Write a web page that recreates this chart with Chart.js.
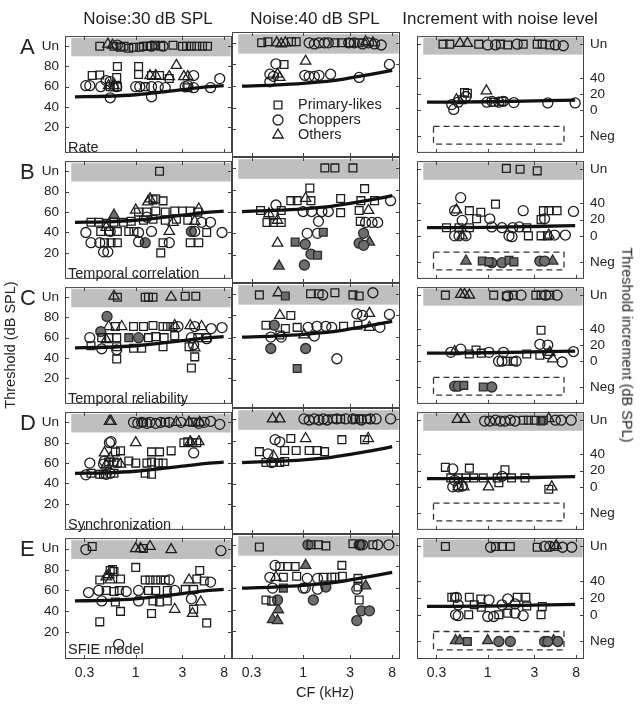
<!DOCTYPE html>
<html lang="en">
<head>
  <meta charset="UTF-8">
  <title>Thresholds vs CF</title>
  <style>
    body {
      margin: 0;
      background: #fff;
      font-family: 'Liberation Sans', Arial, sans-serif;
      color: #222;
    }
    #fig { position: relative; width: 642px; height: 704px; overflow: hidden; }
    #fig canvas { position: absolute; z-index: 0; }
    .lbl { position: absolute; white-space: nowrap; line-height: 1; z-index: 2; }
    .title { top: 10px; font-size: 17px; transform: translateX(-50%); }
    .letter { left: 20px; font-size: 22px; }
    .rowname { left: 68px; font-size: 14.5px; }
    .rot { font-size: 14.5px; transform: translate(-50%, -50%) rotate(-90deg); }
    .rot.cw { transform: translate(-50%, -50%) rotate(90deg); }
  </style>
</head>
<body>
<div id="fig">
  <div class="lbl title" style="left:148px">Noise:30 dB SPL</div>
  <div class="lbl title" style="left:315px">Noise:40 dB SPL</div>
  <div class="lbl title" style="left:500px">Increment with noise level</div>
  <div class="lbl rot" style="left:10px; top:345px">Threshold (dB SPL)</div>
  <div class="lbl rot cw" style="left:627px; top:345px">Threshold increment (dB SPL)</div>
  <div class="lbl" style="left:325px; top:692px; font-size:14.5px; transform:translate(-50%,-50%)">CF (kHz)</div>
</div>

<script src="https://cdn.jsdelivr.net/npm/chart.js"></script>
<script>
  // thresholds in dB SPL (cols 1-2) or dB increment (col 3); Un ~ 100 / 82, Neg ~ -32
  // PL = primary-likes (squares), CH = choppers (circles), OT = others (triangles), F = filled

  // Row A: rate
  const A1_PL = [[0.43,100],[0.6,100],[0.7,99],[0.76,100],[0.85,98],[0.95,99],[1.1,99],[1.2,100],[1.3,100],[1.4,100],[1.6,101],[1.8,100],[2.4,101],[3.0,100],[3.3,100],[3.7,100],[4.2,100],[4.8,100],[5.4,100],
                 [0.36,71],[0.43,71.5],[0.65,80],[0.64,69],[0.55,60],[0.6,60],[0.65,60],[1.07,80],[1.07,72],[1.25,60],[1.45,71],[1.75,71],[2.2,68],[3.4,59]];
  const A1_CH = [[0.65,101],[1.45,100],[1.9,100],[0.31,61],[0.34,61],[0.44,60],[0.5,66],[0.55,65],[0.55,49],[0.64,60],[1.0,60],[1.1,60],[1.45,50],[1.45,60],[1.7,60],[2.0,59],[3.2,60],[3.4,61],[3.9,71],[3.9,59],[5.8,59],[7.2,68]];
  const A1_OT = [[0.52,102],[0.58,101],[0.53,61],[0.6,61],[1.4,71],[1.6,71],[2.2,70],[2.6,81],[3.1,70],[3.4,70]];

  const A2_PL = [[0.38,100],[0.44,101],[0.76,101],[0.85,101],[2.1,100],[2.46,100],[3.0,100],[3.7,100],[0.64,80]];
  const A2_CH = [[1.15,100],[1.3,99],[1.45,100],[1.65,100],[1.8,100],[2.9,100],[3.3,100],[4.0,99],[4.6,100],[5.3,99],[6.2,98],
                 [0.53,80.6],[0.46,71],[0.5,69],[0.46,64],[1.04,70],[1.15,69],[1.3,69],[1.45,70],[1.9,71],[3.7,68],[7.5,80]];
  const A2_OT = [[0.54,100],[0.6,99],[0.66,100],[4.3,101],[5.1,100],[0.55,71],[0.58,68],[1.06,83]];

  const A3_PL = [[0.35,82],[0.41,82],[0.81,82],[1.35,82],[1.6,81],[2.3,82],[3.2,82],[3.6,82],[4.3,81],[0.58,22],[0.62,21],[0.55,13],[1.15,10],[1.4,11]];
  const A3_CH = [[1.0,81],[1.2,81],[2.0,82],[4.9,81],[5.9,80],[0.6,17],[0.45,1],[0.43,7],[0.5,10],[0.98,10],[1.1,11],[1.3,10],[1.45,11],[1.85,9.5],[4.1,9],[7.8,9]];
  const A3_OT = [[0.52,83],[0.62,83],[0.48,13],[0.97,24]];

  // Row B: temporal correlation
  const B1_PL = [[1.75,100],[1.5,72],[1.9,71],[1.6,73],[1.07,60],[1.3,60],[1.6,61],[2.0,60],[2.5,61],[3.0,61],[3.6,61],[4.3,60],
                 [0.35,50],[0.42,50],[0.5,49],[0.6,50],[0.75,50],[0.9,51],[1.2,52],[1.5,53],[2.0,52],[2.6,53],[3.4,52],
                 [0.44,41],[0.53,41],[0.65,41],[0.85,41],[0.96,41],[5.3,40],[0.48,30],[0.56,30],[0.65,30],[1.9,30],[3.6,30],[4.4,30],[1.8,20]];
  const B1_CH = [[0.31,40],[0.55,41],[1.07,40],[1.45,41],[4.0,41],[7.6,40],[4.7,50],[5.8,50],[0.35,30],[0.43,30],[1.07,31],[2.2,30],[0.47,21],[0.52,21],[1.3,55]];
  const B1_CHF = [[1.25,30],[3.7,41]];
  const B1_OT = [[1.33,70],[1.4,73],[1.0,62],[4.4,63],[2.2,41],[2.4,50],[4.0,51],[0.5,45]];
  const B1_OTF = [[0.6,57]];

  const B2_PL = [[1.66,100],[2.1,100],[3.2,100],[1.17,81.5],[4.2,81],[0.75,70],[0.87,70],[1.2,70],[2.4,72],[3.85,70],[5.3,70],[0.37,61],[0.6,61],[2.4,59],[3.7,61],[3.8,51],[0.43,50],[0.5,50],[0.6,50]];
  const B2_PLF = [[1.6,41],[0.83,32],[1.4,20]];
  const B2_CH = [[0.53,66],[1.0,60],[1.22,60],[1.55,60],[1.8,60],[7.7,70],[1.43,51],[4.3,50],[5.0,50],[5.7,50],[1.1,40],[1.4,40],[0.5,57]];
  const B2_CHF = [[4.1,40],[1.05,30],[3.7,31],[4.1,29],[1.2,21],[1.03,11]];
  const B2_OT = [[1.06,72],[0.45,58],[4.6,61],[0.55,52],[0.55,31]];
  const B2_OTF = [[4.7,32],[0.57,10]];

  const B3_PL = [[1.55,83],[2.14,82],[3.2,80],[0.65,31],[0.85,29],[1.2,39],[0.77,21],[3.7,31],[4.2,31],[5.1,31],[3.5,20],[0.38,10],[0.51,10],[0.65,10],[2.5,10],[2.6,0],[3.5,0],[4.07,0]];
  const B3_PLF = [[0.88,-31],[1.03,-32],[1.65,-30],[1.85,-32]];
  const B3_CH = [[0.53,47],[0.46,31],[1.05,21],[0.55,19],[2.3,31],[7.5,30],[3.8,21],[1.1,11],[1.4,10],[1.8,10],[2.1,11],[0.46,0],[0.51,0],[0.6,0],[1.65,0],[1.77,-1],[4.8,1],[6.2,1]];
  const B3_CHF = [[1.1,-33],[1.4,-33],[3.4,-31],[3.8,-31]];
  const B3_OT = [[0.48,32],[4.2,1],[0.55,0]];
  const B3_OTF = [[0.6,-31],[4.6,-31]];

  // Row C: temporal reliability
  const C1_PL = [[0.65,100],[1.25,100],[1.35,100],[1.5,100],[3.2,101],[4.1,101],[0.62,71],[0.95,71],[1.2,71],[1.5,72],[1.9,71],[2.1,71],[2.4,71],
                 [0.45,60],[0.53,60],[0.64,60],[1.35,60],[1.6,61],[1.95,60],[2.5,62],[4.3,60],[5.3,60],[0.35,52],[0.64,51],[0.95,49.5],[1.15,49.5],[1.9,51],[3.5,51],[0.64,39],[4.0,41],[3.7,30]];
  const C1_PLF = [[0.85,60]];
  const C1_CH = [[2.7,71],[4.0,71],[5.9,69],[7.6,70],[0.34,60],[3.7,60],[5.3,59],[0.45,49],[0.64,48],[3.9,53]];
  const C1_CHF = [[0.51,81],[0.44,66],[1.07,60]];
  const C1_OT = [[0.6,101],[2.3,100],[0.53,71],[0.72,71],[2.5,72],[3.6,72],[4.7,71],[4.0,50],[0.5,58]];

  const C2_PL = [[0.36,99],[1.19,100],[1.45,100],[2.1,101],[3.2,99],[3.7,98],[0.75,80],[0.42,71],[0.66,68],[0.87,69],[2.57,70],[3.6,71],[0.58,62]];
  const C2_PLF = [[0.66,98],[0.87,31]];
  const C2_CH = [[1.58,99],[5.1,101],[3.5,81.5],[4.0,80],[7.5,81],[1.12,69],[1.38,70],[1.7,70],[1.95,69],[6.0,69],[0.47,60],[0.6,60],[1.3,61],[2.2,40]];
  const C2_CHF = [[0.51,71],[0.47,49.5],[1.06,49.5]];
  const C2_OT = [[0.56,101],[0.58,80],[4.7,82],[4.7,69],[1.02,62]];

  const C3_PL = [[0.37,82],[1.15,82],[1.55,81],[1.82,82],[3.1,82],[3.5,82],[4.3,82],[3.5,38.5],[3.4,7.5],[0.65,9],[0.76,14],[0.86,10],[2.5,9],[1.58,0],[1.82,0]];
  const C3_PLF = [[0.57,-30],[0.9,-32]];
  const C3_CH = [[1.6,81],[2.19,82],[3.9,82],[5.1,82],[3.4,21],[4.1,20],[4.1,9.3],[0.42,11],[0.53,15],[1.03,11],[1.45,11],[7.5,12],[1.29,0],[1.4,0],[1.95,0],[5.75,-1]];
  const C3_CHF = [[0.46,-31],[0.5,-31],[1.1,-32]];
  const C3_OT = [[0.53,83],[0.58,83],[0.65,82],[0.46,12],[4.3,11],[4.6,3]];

  // Row D: synchronization
  const D1_PL = [[1.2,100],[2.0,100],[3.8,100],[4.1,100],[3.1,80],[3.4,81],[3.8,80],[4.2,80],[0.7,72],[0.62,71],[1.45,71],[1.75,71],[2.3,72],
                 [0.53,61],[0.6,61],[0.65,60],[0.85,62],[1.0,60],[1.3,60],[1.45,61],[1.7,60],[1.9,60],[0.35,50],[0.43,49],[0.47,49],[0.6,50],[1.25,50],[1.45,49]];
  const D1_CH = [[0.95,100],[1.05,99],[1.15,100],[1.3,99],[1.4,100],[1.6,99],[1.8,100],[2.2,100],[2.9,100],[4.4,99],[5.0,100],[5.8,101],[7.2,98],
                 [0.54,80],[0.56,81],[3.9,70],[0.34,60],[0.47,59],[0.48,62],[0.31,48.5],[0.5,49],[0.55,50]];
  const D1_OT = [[0.54,101],[0.56,101],[2.6,100],[3.5,100],[4.5,100],[1.0,80],[0.48,70],[3.6,81],[4.4,81],[0.5,58.5],[0.7,59],[0.55,65]];

  const D2_PL = [[2.0,100],[2.4,100],[3.4,100],[3.7,100],[4.4,100],[0.75,82],[2.47,81],[4.2,81],[0.36,70],[0.65,71],[0.85,71],[1.15,71],[1.4,71],[1.65,70],[0.42,60],[0.5,60],[0.58,60],[0.65,61]];
  const D2_CH = [[1.02,100],[1.15,99],[1.3,100],[1.45,99],[1.6,100],[1.75,99],[2.2,100],[2.7,100],[3.2,100],[3.9,99],[4.8,100],[5.5,100],[7.7,100],[0.52,81],[0.58,79],[0.44,68],[0.48,60]];
  const D2_OT = [[0.49,100],[0.58,100],[1.06,82],[4.57,82],[0.5,66]];

  const D3_PL = [[2.3,82],[2.6,82],[3.0,82],[3.5,81],[0.37,24],[0.65,23],[1.5,21],[0.42,11],[0.5,11],[0.6,11],[0.72,11],[0.9,11],[1.25,11],[1.75,11],[2.4,11],[1.3,5],[4.2,-3]];
  const D3_PLF = [[3.7,82]];
  const D3_CH = [[0.93,81],[1.05,81],[1.2,82],[1.35,81],[1.5,81],[1.7,82],[1.9,81],[4.9,82],[5.6,82],[7.1,82],[0.44,22],[1.4,13],[0.46,8],[0.44,0],[0.5,0],[0.55,1]];
  const D3_OT = [[0.49,83],[0.58,83],[4.2,84],[0.5,0],[0.57,0],[1.02,0],[4.5,0]];

  // Row E: SFIE model
  const E1_PL = [[0.36,102],[1.2,100],[1.0,82],[0.55,79],[0.58,80],[0.6,78],[0.43,70],[0.7,71],[1.25,70],[1.4,70],[1.6,70],[1.8,70],[2.0,70],[4.2,71],[4.5,79],[5.0,69],
                 [0.5,60],[0.6,59],[0.68,60],[1.35,60],[1.6,60],[2.1,60],[3.2,61],[3.9,61],[0.62,49],[1.5,50],[1.75,49],[2.1,50],[0.7,40],[1.45,38],[3.9,42],[5.3,29],[0.43,30]];
  const E1_CH = [[0.31,99],[7.4,98],[2.2,70],[5.8,68],[0.33,58],[0.42,60],[0.8,59],[1.07,60],[2.5,60],[0.45,50],[1.07,50],[3.7,52],[0.67,8.5]];
  const E1_OT = [[1.0,100],[1.12,100],[1.4,102],[2.3,99],[0.5,73],[0.53,75],[0.55,70],[3.5,70],[2.5,42],[4.6,49],[3.8,38]];

  const E2_PL = [[0.36,98],[1.2,100],[1.43,100],[1.7,99],[3.2,101],[5.1,100],[0.58,80],[0.7,80],[0.83,80],[2.47,81],[0.63,70],[0.86,71],[1.6,70],[1.95,70],[2.1,70],[2.5,71],[3.6,69],[3.6,61],[0.42,49],[0.48,48],[3.7,49]];
  const E2_PLF = [[0.63,60]];
  const E2_CH = [[3.7,100],[4.0,100],[5.7,100],[7.4,100],[0.52,81],[0.46,70],[1.1,69],[1.4,69],[0.49,60],[1.0,60],[1.05,60],[1.4,59],[3.5,59]];
  const E2_CHF = [[1.12,100],[3.8,100],[1.7,61],[0.55,49],[1.27,49],[3.9,39],[4.7,39],[3.5,30]];
  const E2_OT = [[0.53,70]];
  const E2_OTF = [[1.06,81],[4.3,62],[0.56,40],[0.49,31],[0.55,30]];

  const E3_PL = [[0.37,82],[1.2,82],[1.4,82],[1.7,82],[3.2,81],[4.8,82],[0.43,21],[0.46,21],[0.65,21],[0.85,19],[2.0,21],[2.45,21],[0.73,12],[0.86,9],[2.5,10.5],[3.6,10],[0.64,0],[1.3,0],[1.6,2],[3.5,0]];
  const E3_PLF = [[0.62,-32]];
  const E3_CH = [[1.07,81],[3.8,82],[4.3,82],[5.8,81],[7.2,81],[0.48,21],[1.03,18],[1.6,19],[0.5,12],[1.4,12],[1.9,13],[0.47,0],[0.5,-1],[1.0,-2],[1.15,-2],[1.9,2],[2.3,-1]];
  const E3_CHF = [[1.3,-32],[1.7,-32],[3.8,-32],[4.1,-32],[5.2,-32]];
  const E3_OT = [[5.0,83]];
  const E3_OTF = [[0.47,-31],[0.52,-31],[1.0,-31],[4.7,-31]];

  // model threshold curves
  const THR_N30 = [[0.24,50],[0.5,50.5],[1,52],[2,55],[3,57],[5,59.5],[7.9,61]];
  const THR_N40 = [[0.24,60],[0.5,61],[1,62.5],[2,65],[3,67.5],[5,71],[8,74.5]];
  const THR_INC = [[0.24,10],[1,10.5],[3,11.5],[7.8,12.5]];

  // axes
  const X_TICKS = [0.3, 1, 3, 8];
  const Y_TICKS_THR = [20, 40, 60, 80, 100];
  const Y_TICKS_INC = [-32, 0, 20, 40, 82];
  const Y_LABELS = { 100: 'Un', 82: 'Un', '-32': 'Neg' };
  const BAND_X = [0.22, 9.3];
  const BAND_THR = [90, 108];
  const BAND_INC = [69, 90];
  const NEG_BOX_X = [0.28, 6.0];
  const NEG_BOX_Y = [-42, -20];

  const ROW_LETTERS = ['A', 'B', 'C', 'D', 'E'];
  const ROW_NAMES = ['Rate', 'Temporal correlation', 'Temporal reliability', 'Synchronization', 'SFIE model'];

  const PANELS = [
    [{ PL: A1_PL, CH: A1_CH, OT: A1_OT }, { PL: A2_PL, CH: A2_CH, OT: A2_OT }, { PL: A3_PL, CH: A3_CH, OT: A3_OT }],
    [{ PL: B1_PL, CH: B1_CH, CHF: B1_CHF, OT: B1_OT, OTF: B1_OTF },
     { PL: B2_PL, PLF: B2_PLF, CH: B2_CH, CHF: B2_CHF, OT: B2_OT, OTF: B2_OTF },
     { PL: B3_PL, PLF: B3_PLF, CH: B3_CH, CHF: B3_CHF, OT: B3_OT, OTF: B3_OTF }],
    [{ PL: C1_PL, PLF: C1_PLF, CH: C1_CH, CHF: C1_CHF, OT: C1_OT },
     { PL: C2_PL, PLF: C2_PLF, CH: C2_CH, CHF: C2_CHF, OT: C2_OT },
     { PL: C3_PL, PLF: C3_PLF, CH: C3_CH, CHF: C3_CHF, OT: C3_OT }],
    [{ PL: D1_PL, CH: D1_CH, OT: D1_OT }, { PL: D2_PL, CH: D2_CH, OT: D2_OT }, { PL: D3_PL, PLF: D3_PLF, CH: D3_CH, OT: D3_OT }],
    [{ PL: E1_PL, CH: E1_CH, OT: E1_OT },
     { PL: E2_PL, PLF: E2_PLF, CH: E2_CH, CHF: E2_CHF, OT: E2_OT, OTF: E2_OTF },
     { PL: E3_PL, PLF: E3_PLF, CH: E3_CH, CHF: E3_CHF, OT: E3_OT, OTF: E3_OTF }],
  ];

  // layout (page pixels)
  const ROW_TOP = [32, 157, 283, 408, 534];
  const ROW_H = [125, 126, 125, 126, 125];
  const COLS = [
    { left: 65, width: 167, yMin: -5.5, yMax: 110, yTicks: Y_TICKS_THR, band: BAND_THR, thr: THR_N30 },
    { left: 232, width: 168, yMin: -5.5, yMax: 110, yTicks: Y_TICKS_THR, band: BAND_THR, thr: THR_N40 },
    { left: 417, width: 167, yMin: -53, yMax: 92, yTicks: Y_TICKS_INC, band: BAND_INC, thr: THR_INC, negBox: true },
  ];

  const FONT = "'Liberation Sans', Arial, sans-serif";
  Chart.defaults.font.family = FONT;
  Chart.defaults.color = '#222';

  const SHAPES = {
    PL: { pointStyle: 'rect', pointRadius: 5.5 },
    CH: { pointStyle: 'circle', pointRadius: 5 },
    OT: { pointStyle: 'triangle', pointRadius: 6 },
  };

  const pts = arr => arr.map(([x, y]) => ({ x, y }));

  const deco = {
    id: 'deco',
    beforeDatasetsDraw(chart, args, o) {
      const { ctx, scales: { x, y } } = chart;
      ctx.save();
      ctx.fillStyle = '#bfbfbf';
      const bx0 = x.getPixelForValue(BAND_X[0]), bx1 = x.getPixelForValue(BAND_X[1]);
      const by0 = y.getPixelForValue(o.band[1]), by1 = y.getPixelForValue(o.band[0]);
      ctx.fillRect(bx0, by0, bx1 - bx0, by1 - by0);
      if (o.negBox) {
        const nx0 = x.getPixelForValue(NEG_BOX_X[0]), nx1 = x.getPixelForValue(NEG_BOX_X[1]);
        const ny0 = y.getPixelForValue(NEG_BOX_Y[1]), ny1 = y.getPixelForValue(NEG_BOX_Y[0]);
        ctx.strokeStyle = '#333';
        ctx.lineWidth = 1.3;
        ctx.setLineDash([6, 4]);
        ctx.strokeRect(nx0, ny0, nx1 - nx0, ny1 - ny0);
      }
      ctx.restore();
    },
    afterDraw(chart, args, o) {
      const { ctx, chartArea: a, scales: { x, y } } = chart;
      ctx.save();
      ctx.strokeStyle = '#444';
      ctx.lineWidth = 1;
      ctx.strokeRect(a.left + 0.5, a.top + 0.5, a.width - 1, a.height - 1);
      // inward tick marks on all four sides
      ctx.beginPath();
      X_TICKS.forEach(v => {
        const px = Math.round(x.getPixelForValue(v)) + 0.5;
        ctx.moveTo(px, a.bottom); ctx.lineTo(px, a.bottom - 4);
        ctx.moveTo(px, a.top); ctx.lineTo(px, a.top + 4);
      });
      o.yTicks.forEach(v => {
        const py = Math.round(y.getPixelForValue(v)) + 0.5;
        ctx.moveTo(a.left, py); ctx.lineTo(a.left + 4, py);
        ctx.moveTo(a.right, py); ctx.lineTo(a.right - 4, py);
      });
      ctx.stroke();
      if (o.legend) {
        const items = [['rect', 5.5, 'Primary-likes'], ['circle', 5, 'Choppers'], ['triangle', 6, 'Others']];
        ctx.strokeStyle = '#1e1e1e';
        ctx.lineWidth = 1.3;
        ctx.font = '14.5px ' + FONT;
        ctx.textBaseline = 'middle';
        items.forEach(([style, r, text], i) => {
          const ly = a.top + 73 + i * 15;
          ctx.fillStyle = 'rgba(0,0,0,0)';
          Chart.helpers.drawPoint(ctx, { pointStyle: style, radius: r, borderWidth: 1.3, rotation: 0 }, a.left + 46, ly);
          ctx.fillStyle = '#222';
          ctx.fillText(text, a.left + 66, ly);
        });
      }
      ctx.restore();
    }
  };

  const fig = document.getElementById('fig');

  function addLabel(cls, text, left, top) {
    const d = document.createElement('div');
    d.className = 'lbl ' + cls;
    d.textContent = text;
    d.style.left = left + 'px';
    d.style.top = top + 'px';
    fig.appendChild(d);
  }

  function makePanel(row, col) {
    const c = COLS[col];
    const set = PANELS[row][col];
    const top = ROW_TOP[row], h = ROW_H[row];
    const last = row === ROW_TOP.length - 1;
    const yW = col === 0 ? 24 : col === 2 ? 40 : 0;
    const xH = last ? 28 : 0;
    const padL = 10 + (col === 0 ? yW : 0);
    const padR = 10 + (col === 2 ? yW : 0);
    const padB = 10 + xH;

    const cv = document.createElement('canvas');
    cv.width = padL + c.width + padR;
    cv.height = 10 + h + padB;
    cv.style.left = (c.left - padL) + 'px';
    cv.style.top = (top - 10) + 'px';
    fig.insertBefore(cv, fig.firstChild);

    const datasets = [{
      data: pts(c.thr), showLine: true, pointRadius: 0, borderColor: '#111', borderWidth: 3.3,
      cubicInterpolationMode: 'monotone', order: 0
    }];
    ['PL', 'CH', 'OT'].forEach(k => {
      [[set[k], false], [set[k + 'F'], true]].forEach(([arr, filled]) => {
        if (!arr) return;
        datasets.push({
          data: pts(arr),
          pointStyle: SHAPES[k].pointStyle,
          pointRadius: SHAPES[k].pointRadius,
          pointBackgroundColor: filled ? '#6e6e6e' : 'rgba(0,0,0,0)',
          pointBorderColor: filled ? '#2a2a2a' : '#1e1e1e',
          pointBorderWidth: 1.3,
          clip: false,
          order: 1
        });
      });
    });

    new Chart(cv, {
      type: 'scatter',
      data: { datasets },
      options: {
        responsive: false,
        animation: false,
        devicePixelRatio: 1,
        events: [],
        layout: { padding: { left: 10, right: 10, top: 10, bottom: 10 } },
        plugins: {
          legend: { display: false },
          tooltip: { enabled: false },
          deco: { band: c.band, negBox: !!c.negBox, yTicks: c.yTicks, legend: row === 0 && col === 1 }
        },
        scales: {
          x: {
            type: 'logarithmic', min: 0.19, max: 9.6, display: last,
            grid: { display: false, drawTicks: false }, border: { display: false },
            ticks: { font: { size: 14 }, padding: 6, maxRotation: 0, autoSkip: false, callback: v => String(v) },
            afterBuildTicks: s => { s.ticks = X_TICKS.map(v => ({ value: v })); },
            afterFit: s => { s.height = xH; }
          },
          y: {
            type: 'linear', min: c.yMin, max: c.yMax, display: col !== 1,
            position: col === 2 ? 'right' : 'left',
            grid: { display: false, drawTicks: false }, border: { display: false },
            ticks: { font: { size: 13.5 }, padding: 6, autoSkip: false, callback: v => Y_LABELS[v] || String(v) },
            afterBuildTicks: s => { s.ticks = c.yTicks.map(v => ({ value: v })); },
            afterFit: s => { s.width = yW; }
          }
        }
      },
      plugins: [deco]
    });
  }

  for (let r = 0; r < ROW_TOP.length; r++) {
    for (let c = 0; c < COLS.length; c++) makePanel(r, c);
    addLabel('letter', ROW_LETTERS[r], 20, ROW_TOP[r] + 4);
    addLabel('rowname', ROW_NAMES[r], 68, ROW_TOP[r] + ROW_H[r] - 17);
  }
</script>
</body>
</html>
